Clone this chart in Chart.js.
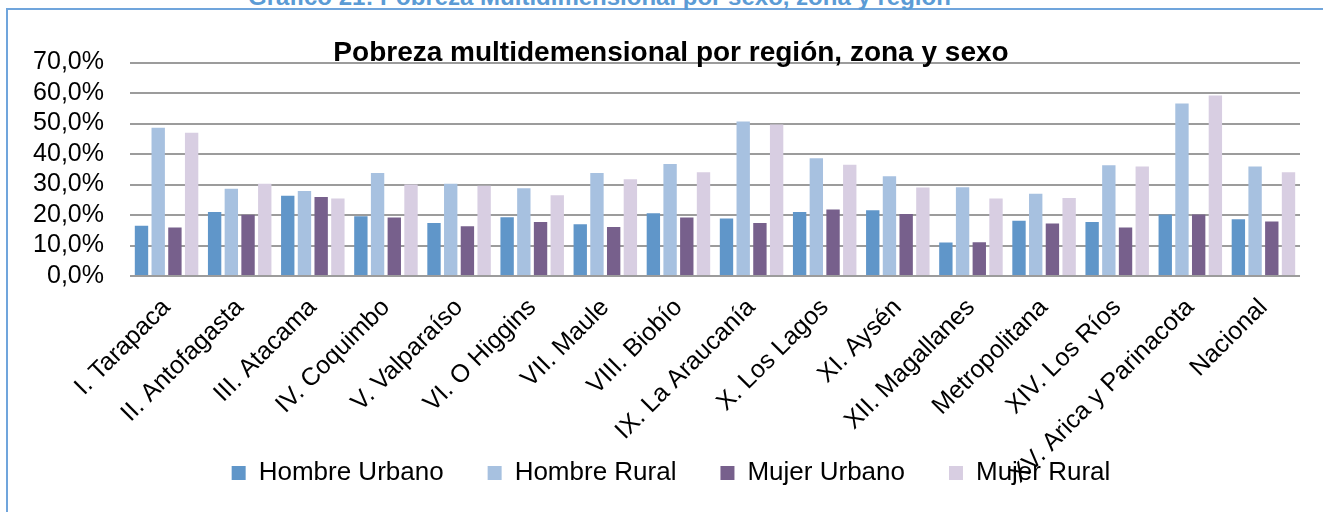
<!DOCTYPE html>
<html lang="es">
<head>
<meta charset="utf-8">
<script src="https://cdn.jsdelivr.net/npm/chart.js@4/dist/chart.umd.min.js"></script>
<style>
  html, body { margin: 0; padding: 0; background: #fff; }
  #wrap { position: relative; width: 1323px; height: 512px; overflow: hidden; }
  #frame {
    position: absolute; left: 6px; top: 8px; right: -10px; bottom: -10px;
    border-left: 2px solid #70a5dc; border-top: 2px solid #70a5dc;
  }
  #heading {
    position: absolute; left: 248px; top: -17px; line-height: 20px;
    font: bold 24px "Liberation Sans", Arial, sans-serif; color: #5b9bd5; white-space: nowrap;
  }
  canvas { position: absolute; left: 0; top: 0; }
</style>
</head>
<body>
<div id="wrap">
  <div id="frame"></div>
  <div id="heading">Gráfico 21: Pobreza Multidimensional por sexo, zona y región</div>
  <canvas id="chart" width="1323" height="512"></canvas>
</div>
<script>
// values, in percent
const regions = [
    'I. Tarapaca', 'II. Antofagasta', 'III. Atacama', 'IV. Coquimbo', 'V. Valparaíso',
    'VI. O Higgins', 'VII. Maule', 'VIII. Biobío', 'IX. La Araucanía', 'X. Los Lagos',
    'XI. Aysén', 'XII. Magallanes', 'Metropolitana', 'XIV. Los Ríos',
    'XV. Arica y Parinacota', 'Nacional',
];
const hombreUrbano = [16.5, 21.0, 26.3, 19.6, 17.4, 19.3, 17.0, 20.6, 18.9, 21.0, 21.6, 11.0, 18.1, 17.7, 20.2, 18.6];
const hombreRural  = [48.6, 28.6, 27.9, 33.8, 30.3, 28.8, 33.8, 36.7, 50.7, 38.6, 32.7, 29.1, 27.0, 36.3, 56.6, 35.9];
const mujerUrbano  = [15.9, 20.1, 25.9, 19.2, 16.3, 17.7, 16.1, 19.2, 17.4, 21.8, 20.3, 11.1, 17.2, 15.9, 20.2, 17.9];
const mujerRural   = [47.0, 30.3, 25.4, 30.0, 29.6, 26.5, 31.7, 34.0, 49.7, 36.5, 29.0, 25.4, 25.6, 35.9, 59.2, 34.0];

const yTicks = [0, 10, 20, 30, 40, 50, 60, 70];

const font = 'Liberation Sans, Arial, sans-serif';

const series = [
    { label: 'Hombre Urbano', data: hombreUrbano, color: '#6096c9' },
    { label: 'Hombre Rural', data: hombreRural, color: '#a7c1e0' },
    { label: 'Mujer Urbano', data: mujerUrbano, color: '#77608c' },
    { label: 'Mujer Rural', data: mujerRural, color: '#d8cee2' },
];

// the original lets long axis labels run over the legend, so no label clipping
const noLabelClip = (scale) => { scale._computeLabelArea = () => undefined; };

new Chart(document.getElementById('chart'), {
    type: 'bar',
    data: {
        labels: regions,
        datasets: series.map((s) => ({
            label: s.label,
            data: s.data,
            backgroundColor: s.color,
            borderWidth: 0,
            categoryPercentage: 0.914,
            barPercentage: 0.8,
        })),
    },
    options: {
        responsive: false,
        animation: false,
        layout: { padding: { left: 42, right: 23, top: 0, bottom: 16 } },
        plugins: {
            tooltip: { enabled: false },
            title: {
                display: true,
                text: 'Pobreza multidemensional por región, zona y sexo',
                color: '#000',
                font: { family: font, size: 28, weight: 'bold' },
                padding: { top: 36, bottom: -7 },
            },
            legend: {
                position: 'bottom',
                labels: {
                    color: '#000',
                    font: { family: font, size: 26 },
                    boxWidth: 14,
                    boxHeight: 14,
                    padding: 44,
                },
            },
        },
        scales: {
            x: {
                grid: { display: false },
                border: { display: false },
                ticks: {
                    color: '#000',
                    font: { family: font, size: 25 },
                    minRotation: 45,
                    maxRotation: 45,
                    autoSkip: false,
                    padding: 9,
                },
                afterFit: (scale) => { scale.height = 140; noLabelClip(scale); },
            },
            y: {
                min: 0,
                max: 70,
                border: { display: false },
                grid: { color: '#9c9c9c', lineWidth: 2, drawTicks: false },
                afterBuildTicks: (scale) => { scale.ticks = yTicks.map((v) => ({ value: v })); },
                afterFit: (scale) => { scale.width = 88; noLabelClip(scale); },
                ticks: {
                    color: '#000',
                    font: { family: font, size: 25 },
                    padding: 26,
                    autoSkip: false,
                    stepSize: 10,
                    callback: (v) => v.toFixed(1).replace('.', ',') + '%',
                },
            },
        },
    },
});
</script>
</body>
</html>
